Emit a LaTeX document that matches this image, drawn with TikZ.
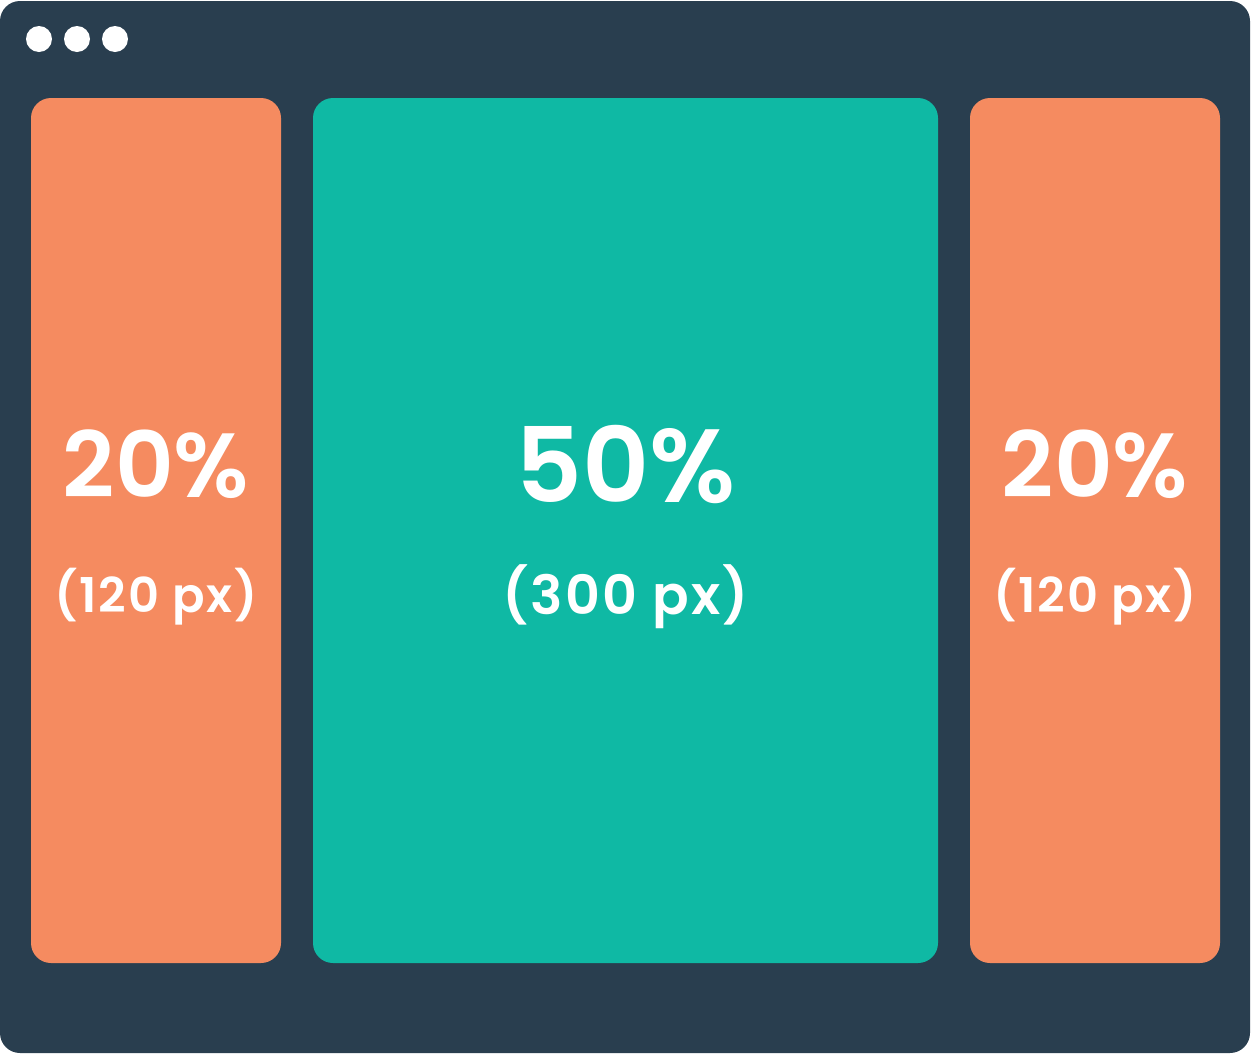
\documentclass[tikz,border=0pt]{standalone}
\usepackage{fontspec}
\setmainfont{Poppins}
\newfontfamily\popsb{Poppins SemiBold}
\newfontfamily\popmd[LetterSpace=4]{Poppins SemiBold}
\definecolor{frame}{HTML}{293E4F}
\definecolor{orng}{HTML}{F58B60}
\definecolor{teal}{HTML}{0FB9A4}
\tikzset{
  panel/.style={rounded corners=20pt, draw=none},
  dot/.style={circle, fill=white, minimum size=26pt, inner sep=0pt},
  bigtxt/.style={text=white, anchor=base, inner sep=0pt, font=\popsb\fontsize{91}{91}\selectfont},
  hugetxt/.style={text=white, anchor=base, inner sep=0pt, font=\popsb\fontsize{104}{104}\selectfont},
  pxtxt/.style={text=white, anchor=base, inner sep=0pt, font=\popmd\fontsize{48}{48}\selectfont},
  pxbig/.style={text=white, anchor=base, inner sep=0pt, font=\popmd\fontsize{54}{54}\selectfont}
}
\begin{document}
\begin{tikzpicture}[x=1pt,y=-1pt]
\useasboundingbox (0,0) rectangle (1251,1053);
\fill[white] (0,0) rectangle (1251,1053);
\fill[frame, rounded corners=20pt] (0,1) rectangle (1250,1053);
\node[dot] (d1) at (39,39) {};
\node[dot] (d2) at (77,39) {};
\node[dot] (d3) at (115,39) {};
\fill[orng, panel] (31,98) rectangle (281,963);
\fill[teal, panel] (313,98) rectangle (938,963);
\fill[orng, panel] (970,98) rectangle (1220,963);
\node[bigtxt] (l1) at (156,497) {20\%};
\node[pxtxt] (l2) at (156,612) {(120 px)};
\node[hugetxt] (m1) at (625.5,502) {50\%};
\node[pxbig] (m2) at (625.5,614) {(300 px)};
\node[bigtxt] (r1) at (1095,497) {20\%};
\node[pxtxt] (r2) at (1095,612) {(120 px)};
\end{tikzpicture}
\end{document}
